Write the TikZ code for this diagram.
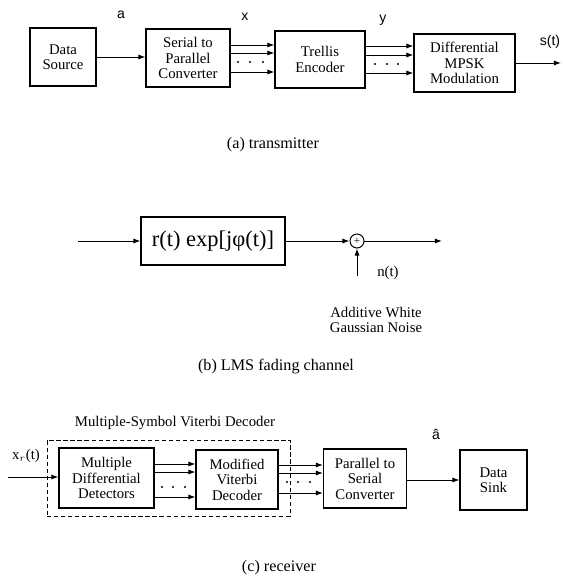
\documentclass[tikz,border=0pt]{standalone}
\usepackage{fontspec}
\setmainfont{Liberation Serif}
\setsansfont{Liberation Sans}
\usetikzlibrary{arrows.meta,positioning,calc}

\tikzset{
  box/.style 2 args={draw, line width=0.8pt, align=center, inner sep=1pt,
    minimum width=#1*0.025cm, minimum height=#2*0.025cm,
    font=\fontsize{10.5}{11}\selectfont},
  arr/.style={-{Latex[length=5pt,width=3.6pt]}, line width=0.7pt},
  lbl/.style={font=\sffamily\fontsize{10}{12}\selectfont},
  txt/.style={align=center, font=\fontsize{10.5}{11}\selectfont},
  captxt/.style={font=\fontsize{11.5}{13}\selectfont},
}

\begin{document}
\begin{tikzpicture}[x=0.025cm, y=-0.025cm]
\useasboundingbox (0,0) rectangle (563,578);

% (a) transmitter
\node[box={66}{58}] (src) at (63, 57) {Data\\Source};
\node[box={84}{58}] (sp) at (188, 58) {Serial to\\Parallel\\Converter};
\node[box={90}{57}] (te) at (320, 59.5) {Trellis\\Encoder};
\node[box={101}{58}] (mod) at (464.5, 63) {Differential\\MPSK\\Modulation};
\coordinate (sout) at (561, 63);

\node[lbl] (la) at (121, 15) {a};
\node[lbl] (lx) at (245, 17) {x};
\node[lbl] (ly) at (383, 20) {y};
\node[lbl] (ls) at (550, 42) {s(t)};

\draw[arr] (src.east |- 0,57) -- (sp.west |- 0,57);
\foreach \y in {45, 53, 72}
  \draw[arr] (sp.east |- 0,\y) -- (te.west |- 0,\y);
\foreach \y in {46, 55, 73}
  \draw[arr] (te.east |- 0,\y) -- (mod.west |- 0,\y);
\draw[arr] (mod.east |- sout) -- (sout);

% dots between parallel lines
\foreach \x in {238, 250, 263} \fill (\x, 62) circle (0.8pt);
\foreach \x in {375, 387, 398} \fill (\x, 64) circle (0.8pt);

\node[captxt] (capa) at (273, 145) {(a) transmitter};

% (b) LMS fading channel
\coordinate (cin) at (78, 241);
\node[box={144}{48}, font=\fontsize{16}{18}\selectfont] (ch) at (213, 241) {r(t) exp[jφ(t)]};
\node[draw, circle, line width=0.7pt, inner sep=0pt, minimum size=14*0.025cm,
  font=\fontsize{8}{8}\selectfont] (sum) at (357, 241) {+};
\coordinate (cout) at (442, 241);
\coordinate (nin) at (357, 276);

\draw[arr] (cin) -- (ch.west);
\draw[arr] (ch.east) -- (sum.west);
\draw[arr] (sum.east) -- (cout);
\draw[arr] (nin) -- (sum.south);

\node[txt] (nt) at (388, 273) {n(t)};
\node[txt] (awgn) at (376, 320) {Additive White\\Gaussian Noise};

\node[captxt] (capb) at (276, 367) {(b) LMS fading channel};

% (c) receiver
\node[draw, dashed, dash pattern=on 3pt off 2pt, line width=0.7pt,
  minimum width=243*0.025cm, minimum height=76*0.025cm] (msvd) at (168.5, 478) {};
\node[txt] (msvdl) at (175, 423) {Multiple-Symbol Viterbi Decoder};

\node[box={95}{60}] (mdd) at (106.5, 478) {Multiple\\Differential\\Detectors};
\node[box={82}{59}] (mvd) at (237, 479.5) {Modified\\Viterbi\\Decoder};
\node[box={83}{59}] (psc) at (365, 478.5) {Parallel to\\Serial\\Converter};
\node[box={67}{60}] (sink) at (493.5, 480) {Data\\Sink};
\coordinate (rin) at (8, 477);

\node[txt] (lxr) at (26, 456) {x$_r$(t)};
\node[lbl] (lah) at (436, 434) {â};

\draw[arr] (rin) -- (mdd.west |- rin);
\foreach \y in {464, 472, 497}
  \draw[arr] (mdd.east |- 0,\y) -- (mvd.west |- 0,\y);
\foreach \y in {465, 473, 493}
  \draw[arr] (mvd.east |- 0,\y) -- (psc.west |- 0,\y);
\draw[arr] (psc.east |- 0,480) -- (sink.west |- 0,480);

\foreach \x in {162, 173, 185} \fill (\x, 487) circle (0.8pt);
\foreach \x in {287, 298, 310} \fill (\x, 482) circle (0.8pt);

\node[captxt] (capc) at (279, 568) {(c) receiver};

\end{tikzpicture}
\end{document}
